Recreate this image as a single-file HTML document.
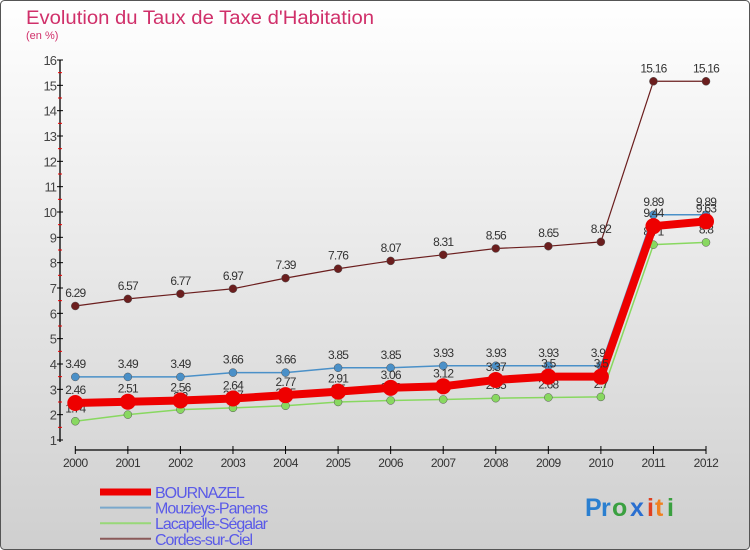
<!DOCTYPE html>
<html><head><meta charset="utf-8">
<style>
body{margin:0;width:750px;height:550px;overflow:hidden;font-family:"Liberation Sans",sans-serif}
svg{display:block}
</style></head>
<body>
<svg id="c" width="750" height="550" xmlns="http://www.w3.org/2000/svg">
<defs>
<linearGradient id="bg" x1="0" y1="0" x2="0" y2="1">
<stop offset="0" stop-color="#ffffff"/><stop offset="1" stop-color="#cfcfcf"/>
</linearGradient>
</defs>
<rect x="0.5" y="0.5" width="749" height="549" rx="4" fill="url(#bg)" stroke="#555"/>
<text x="26" y="24" font-size="19" fill="#d0306a" textLength="348" lengthAdjust="spacingAndGlyphs">Evolution du Taux de Taxe d'Habitation</text>
<text x="26" y="39" font-size="11" fill="#d0306a">(en %)</text>
<g id="axes"></g>
<g id="series"></g>
<g id="legend"></g>
<g font-size="25" font-weight="bold">
<text x="585" y="516" fill="#2a7fd0">P</text><text x="601" y="516" fill="#2a7fd0">r</text>
<text x="612" y="516" fill="#3aa040">o</text><text x="630" y="516" fill="#2a6fd0">x</text>
<text x="647" y="516" fill="#e04020">i</text><text x="655" y="516" fill="#f08020">t</text><text x="667" y="516" fill="#3aa040">i</text>
</g>
</svg>
<script>
const years=[2000,2001,2002,2003,2004,2005,2006,2007,2008,2009,2010,2011,2012];
const bournazel=[2.46,2.51,2.56,2.64,2.77,2.91,3.06,3.12,3.37,3.5,3.5,9.44,9.63];
const mouzieys=[3.49,3.49,3.49,3.66,3.66,3.85,3.85,3.93,3.93,3.93,3.93,9.89,9.89];
const lacapelle=[1.74,2,2.2,2.27,2.35,2.5,2.56,2.6,2.65,2.68,2.7,8.71,8.8];
const cordes=[6.29,6.57,6.77,6.97,7.39,7.76,8.07,8.31,8.56,8.65,8.82,15.16,15.16];
const yTicks=[1,2,3,4,5,6,7,8,9,10,11,12,13,14,15,16];
const NS="http://www.w3.org/2000/svg";
const x=i=>75.3+i*(706-75.3)/(years.length-1);
const y=v=>440-(v-1)*(380/15);
function mk(tag,attrs,parent){const e=document.createElementNS(NS,tag);for(const k in attrs)e.setAttribute(k,attrs[k]);parent.appendChild(e);return e;}
const ax=document.getElementById('axes');
const yl=mk('line',{x1:60,y1:60,x2:60,y2:442,stroke:'#000','stroke-width':1.3},ax);


yTicks.forEach(t=>{
  mk('line',{x1:57,x2:63,y1:y(t),y2:y(t),stroke:'#000'},ax);
  if(t<16){mk('line',{x1:58,x2:62,y1:y(t+0.5),y2:y(t+0.5),stroke:'#e00'},ax);}
  const tx=mk('text',{x:56,y:y(t)+5,'font-size':13,'text-anchor':'end',fill:'#444','letter-spacing':'-1'},ax);
  tx.textContent=t;
  
  
});
const xl=mk('line',{x1:75,y1:450,x2:706,y2:450,stroke:'#000','stroke-width':1.3},ax);


years.forEach((yr,i)=>{
  mk('line',{x1:x(i),x2:x(i),y1:446,y2:454,stroke:'#000'},ax);
  const tx=mk('text',{x:x(i),y:467,'font-size':12,'text-anchor':'middle',fill:'#333','letter-spacing':'-0.5'},ax);
  tx.textContent=yr;
  
  
});
const sg=document.getElementById('series');
const defs=[
 {d:cordes,c:'#6b1e1e',w:1.2,r:4,name:'cordes'},
 {d:lacapelle,c:'#88d860',w:1.5,r:4,name:'lacapelle'},
 {d:mouzieys,c:'#4a90c8',w:1.5,r:4,name:'mouzieys'},
 {d:bournazel,c:'#ee0000',w:8,r:8,name:'bournazel'}
];
defs.forEach(s=>{
  const g=mk('g',{},sg);
  
  
  const p=mk('polyline',{points:s.d.map((v,i)=>x(i)+','+y(v)).join(' '),fill:'none',stroke:s.c,'stroke-width':s.w,'stroke-linejoin':'round'},g);
  
  
  s.d.forEach((v,i)=>{
    const c=mk('circle',{cx:x(i),cy:y(v),r:s.r,fill:s.c,stroke:s.name==='bournazel'?'none':'#555','stroke-width':0.5},g);
    
    
    const t=mk('text',{x:x(i),y:y(v)-9,'font-size':12,'text-anchor':'middle',fill:'#333','letter-spacing':'-0.8'},g);
    t.textContent=v;
    
    
  });
});
const lg=document.getElementById('legend');
const items=[['BOURNAZEL','#ee0000',7],['Mouzieys-Panens','#7aa8cc',2],['Lacapelle-Ségalar','#98d878',2],['Cordes-sur-Ciel','#8a5a5a',2]];
items.forEach((it,k)=>{
  const yy=492+k*15.6;
  const g=mk('g',{},lg);
  
  
  mk('line',{x1:100,x2:151,y1:yy,y2:yy,stroke:it[1],'stroke-width':it[2]},g);
  const t=mk('text',{x:155,y:yy+6,'font-size':16,fill:'#5a5ae8','letter-spacing':'-1'},g);
  t.textContent=it[0];
});
</script>
</body></html>
